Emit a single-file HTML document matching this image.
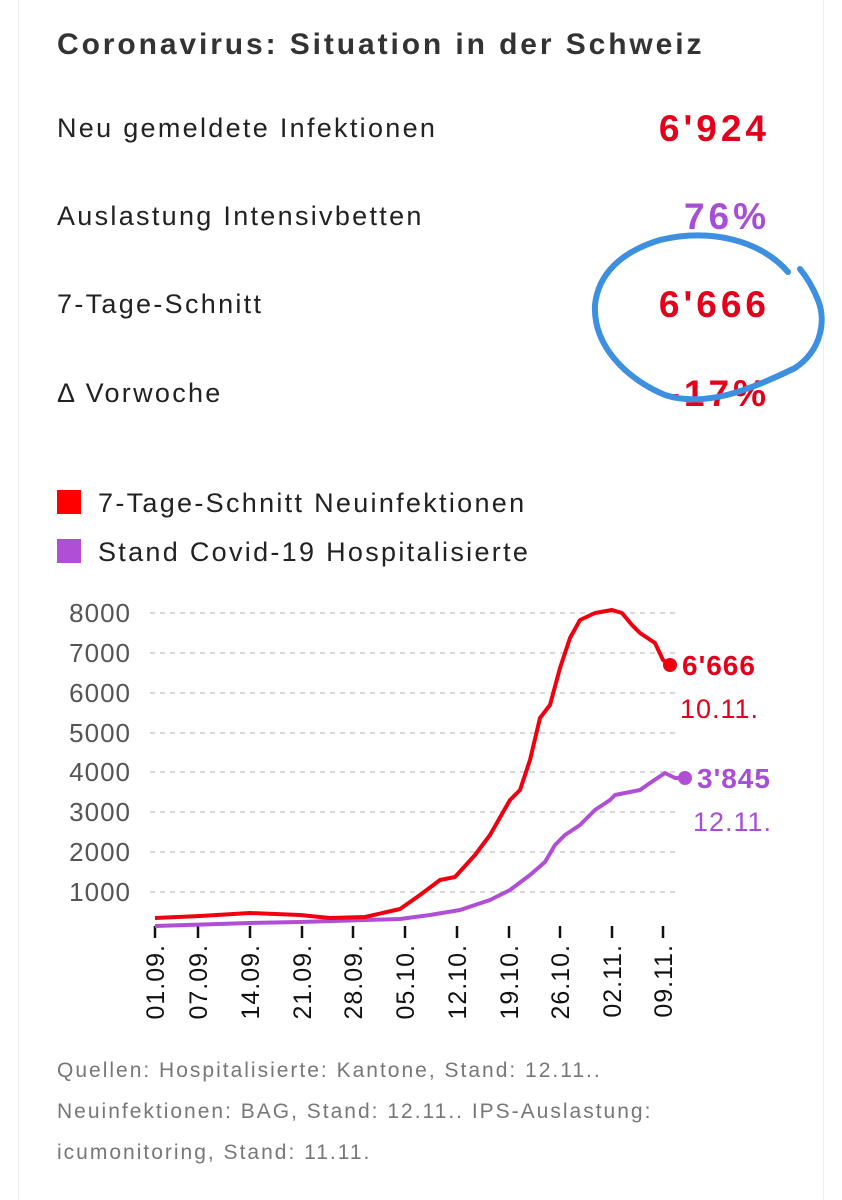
<!DOCTYPE html>
<html><head><meta charset="utf-8"><style>
body{margin:0;background:#fff;width:842px;height:1200px;position:relative;overflow:hidden;font-family:"Liberation Sans",sans-serif}
.t{position:absolute;white-space:nowrap}
.lab{left:57px;font-size:27px;color:#222;letter-spacing:2.3px}
.val{right:72px;font-size:37px;font-weight:bold;color:#e4001b;letter-spacing:4px}
.foot{left:57px;font-size:21px;color:#777;letter-spacing:2px}
</style></head><body>
<div style="position:absolute;left:18px;top:0;width:1px;height:1200px;background:#eee"></div>
<div style="position:absolute;left:823px;top:0;width:1px;height:1200px;background:#eee"></div>
<div class="t" style="left:57px;top:28px;font-size:30px;font-weight:bold;color:#333;letter-spacing:2.9px">Coronavirus: Situation in der Schweiz</div>
<div class="t lab" style="top:113px">Neu gemeldete Infektionen</div>
<div class="t val" style="top:108px">6'924</div>
<div class="t lab" style="top:201px">Auslastung Intensivbetten</div>
<div class="t val" style="top:196px;color:#a64fd6">76%</div>
<div class="t lab" style="top:289px">7-Tage-Schnitt</div>
<div class="t val" style="top:284px">6'666</div>
<div class="t lab" style="top:378px">Δ Vorwoche</div>
<div class="t val" style="top:373px">-17%</div>
<div style="position:absolute;left:57px;top:490px;width:24px;height:24px;background:#f00"></div>
<div class="t lab" style="left:98px;top:488px">7-Tage-Schnitt Neuinfektionen</div>
<div style="position:absolute;left:57px;top:539px;width:24px;height:24px;background:#b04fd6"></div>
<div class="t lab" style="left:98px;top:537px">Stand Covid-19 Hospitalisierte</div>
<svg style="position:absolute;left:0;top:0" width="842" height="1200">
<g stroke="#ccc" stroke-dasharray="5,5" stroke-width="1.5">
<line x1="150" x2="680" y1="613" y2="613"/><line x1="150" x2="680" y1="653" y2="653"/><line x1="150" x2="680" y1="693" y2="693"/><line x1="150" x2="680" y1="733" y2="733"/><line x1="150" x2="680" y1="772" y2="772"/><line x1="150" x2="680" y1="812" y2="812"/><line x1="150" x2="680" y1="852" y2="852"/><line x1="150" x2="680" y1="892" y2="892"/>
</g>
<g font-size="26" fill="#555" text-anchor="end" font-family="Liberation Sans" letter-spacing="1">
<text x="131" y="622">8000</text><text x="131" y="662">7000</text><text x="131" y="702">6000</text><text x="131" y="742">5000</text><text x="131" y="781">4000</text><text x="131" y="821">3000</text><text x="131" y="861">2000</text><text x="131" y="901">1000</text>
</g>
<g stroke="#111" stroke-width="2.5">
<line x1="155" x2="155" y1="926" y2="938"/><line x1="198" x2="198" y1="926" y2="938"/><line x1="250" x2="250" y1="926" y2="938"/><line x1="302" x2="302" y1="926" y2="938"/><line x1="353" x2="353" y1="926" y2="938"/><line x1="405" x2="405" y1="926" y2="938"/><line x1="457" x2="457" y1="926" y2="938"/><line x1="509" x2="509" y1="926" y2="938"/><line x1="560" x2="560" y1="926" y2="938"/><line x1="612" x2="612" y1="926" y2="938"/><line x1="663" x2="663" y1="926" y2="938"/>
</g>
<g font-size="25" fill="#111" text-anchor="end" font-family="Liberation Sans" letter-spacing="1">
<text transform="translate(164,944) rotate(-90)">01.09.</text>
<text transform="translate(207,944) rotate(-90)">07.09.</text>
<text transform="translate(259,944) rotate(-90)">14.09.</text>
<text transform="translate(311,944) rotate(-90)">21.09.</text>
<text transform="translate(362,944) rotate(-90)">28.09.</text>
<text transform="translate(414,944) rotate(-90)">05.10.</text>
<text transform="translate(466,944) rotate(-90)">12.10.</text>
<text transform="translate(518,944) rotate(-90)">19.10.</text>
<text transform="translate(569,944) rotate(-90)">26.10.</text>
<text transform="translate(621,944) rotate(-90)">02.11.</text>
<text transform="translate(672,944) rotate(-90)">09.11.</text>
</g>
<polyline fill="none" stroke="#b04fd6" stroke-width="4" stroke-linejoin="round" points="155,926 250,923 300,922 400,919 430,915 460,910 490,900 510,890 530,875 545,862 555,845 565,835 580,825 595,810 610,800 615,795 625,793 640,790 650,783 665,773 675,778 685,778"/>
<polyline fill="none" stroke="#f0000f" stroke-width="4" stroke-linejoin="round" points="155,918 200,916 250,913 300,915 330,918 365,917 400,909 420,895 440,880 455,877 475,855 490,835 510,800 520,790 530,760 540,718 550,705 560,668 570,638 580,620 595,613 612,610 622,613 632,625 640,633 655,643 663,660 670,665"/>
<circle cx="670" cy="665" r="7" fill="#f0000f"/>
<circle cx="685" cy="778" r="7" fill="#b04fd6"/>
<g font-family="Liberation Sans" letter-spacing="1">
<text x="682" y="675" font-size="28" font-weight="bold" fill="#e4001b">6'666</text>
<text x="680" y="718" font-size="27" fill="#e4001b">10.11.</text>
<text x="697" y="788" font-size="28" font-weight="bold" fill="#a64fd6">3'845</text>
<text x="693" y="831" font-size="27" fill="#a64fd6">12.11.</text>
</g>
<path d="M788,272 C760,240 710,228 660,240 C620,252 598,275 595,305 C593,345 625,378 665,395 C705,408 750,390 795,368 C822,350 826,320 818,300 C812,285 805,275 800,269" fill="none" stroke="#3d8fe0" stroke-width="6" stroke-linecap="round"/>
</svg>
<div class="t foot" style="top:1059px">Quellen: Hospitalisierte: Kantone, Stand: 12.11..</div>
<div class="t foot" style="top:1100px">Neuinfektionen: BAG, Stand: 12.11.. IPS-Auslastung:</div>
<div class="t foot" style="top:1141px">icumonitoring, Stand: 11.11.</div>
</body></html>
